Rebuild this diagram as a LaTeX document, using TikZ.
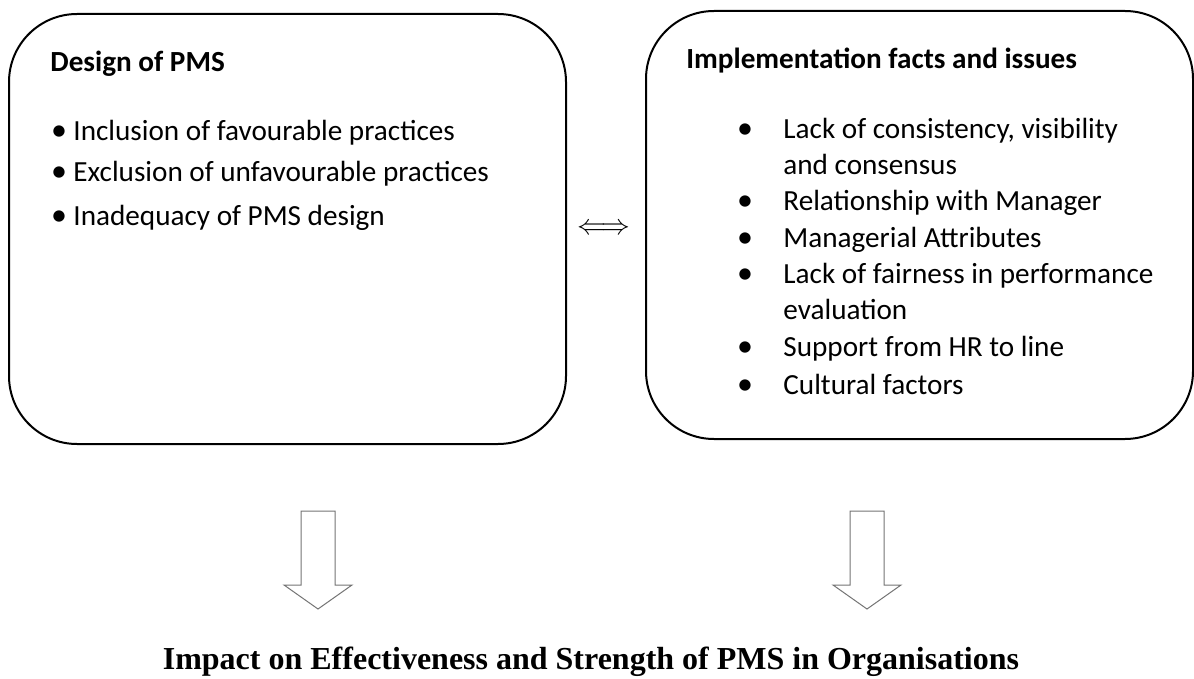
\documentclass[tikz,border=0pt]{standalone}
\usepackage{fontspec}
\setmainfont{Carlito}
\newfontfamily\titlefont{Liberation Serif}
\usetikzlibrary{positioning, arrows.meta, calc}

\begin{document}
\begin{tikzpicture}[x=0.5pt, y=-0.5pt,
  box/.style={draw, line width=1pt, rounded corners=34pt, minimum width=278.5pt, anchor=north west},
  head/.style={anchor=base west, inner sep=0pt, font=\bfseries\fontsize{14.6}{17}\selectfont},
  item/.style={anchor=base west, inner sep=0pt, font=\fontsize{14.6}{17}\selectfont},
  dot/.style={anchor=base, inner sep=0pt, font=\fontsize{16}{16}\selectfont},
  blockarrow/.style={draw=black!55, line width=0.5pt}]
  \useasboundingbox (0,0) rectangle (1194,679);

  % the two boxes
  \node (D) [box, minimum height=215pt] at (8,13) {};
  \node (I) [box, minimum width=273.5pt, minimum height=214pt] at (645,10) {};

  % design of PMS
  \node (Dhead) [head] at (50,72) {Design of PMS};
  \foreach \y/\txt in {141/Inclusion of favourable practices,
                       182/Exclusion of unfavourable practices,
                       226/Inadequacy of PMS design} {
    \node (Db\y) [dot] at (59,\y) {\textbullet};
    \node (Dt\y) [item] at (73,\y) {\txt};
  }

  % implementation facts and issues
  \node (Ihead) [head] at (686,69) {Implementation facts and issues};
  \foreach \y in {139,211,248,284,357,394}
    \node (Ib\y) [dot] at (745,\y) {\textbullet};
  \foreach \y/\txt in {139/{Lack of consistency, visibility},
                       175/and consensus,
                       211/Relationship with Manager,
                       248/Managerial Attributes,
                       284/Lack of fairness in performance,
                       320/evaluation,
                       357/Support from HR to line,
                       394/Cultural factors}
    \node (It\y) [item] at (783,\y) {\txt};

  % link between the boxes
  \node (link) [inner sep=0pt, font=\fontsize{15}{15}\selectfont] at (604,229) {$\Longleftrightarrow$};

  % the two downward arrows
  \coordinate (AL) at (318,511);
  \coordinate (AR) at (867,511);
  \foreach \a in {AL,AR}
    \draw[blockarrow] ($(\a)+(-17,0)$) -- ($(\a)+(-17,74)$) -- ($(\a)+(-34,74)$)
      -- ($(\a)+(0,98)$) -- ($(\a)+(34,74)$) -- ($(\a)+(17,74)$) -- ($(\a)+(17,0)$) -- cycle;

  % conclusion
  \node (T) [font=\titlefont\bfseries\fontsize{16}{18}\selectfont] at (591,662)
    {Impact on Effectiveness and Strength of PMS in Organisations};
\end{tikzpicture}
\end{document}
